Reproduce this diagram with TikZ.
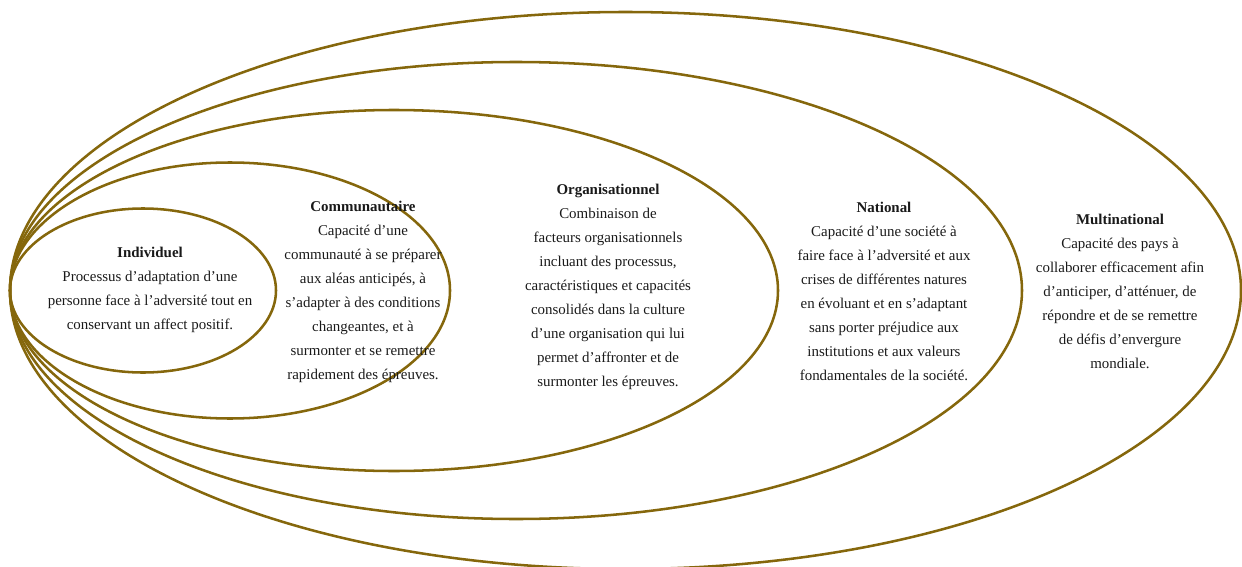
\documentclass[tikz,border=0pt]{standalone}
\usepackage{fontspec}
\setmainfont{Liberation Serif}
\definecolor{gold}{RGB}{133,103,12}
\begin{document}
\begin{tikzpicture}[x=0.75pt,y=-0.75pt,
  ring/.style={draw=gold, line width=1.9pt},
  txt/.style={align=center, font=\fontsize{11.2}{18}\selectfont, inner sep=0pt, text=black!90}]
\useasboundingbox (0,0) rectangle (1242,567);
\draw[ring] (625.5,290.5) ellipse [x radius=615.5, y radius=278.5];
\draw[ring] (516,290.5) ellipse [x radius=506, y radius=228.5];
\draw[ring] (394,290.5) ellipse [x radius=384, y radius=180.5];
\draw[ring] (230,290.5) ellipse [x radius=220, y radius=128];
\draw[ring] (143,290.5) ellipse [x radius=133, y radius=82];

\node[txt] (ind) at (150,290) {\textbf{Individuel}\\Processus d’adaptation d’une\\personne face à l’adversité tout en\\conservant un affect positif.};
\node[txt] (com) at (363,291.5) {\textbf{Communautaire}\\Capacité d’une\\communauté à se préparer\\aux aléas anticipés, à\\s’adapter à des conditions\\changeantes, et à\\surmonter et se remettre\\rapidement des épreuves.};
\node[txt] (org) at (608,286.5) {\textbf{Organisationnel}\\Combinaison de\\facteurs organisationnels\\incluant des processus,\\caractéristiques et capacités\\consolidés dans la culture\\d’une organisation qui lui\\permet d’affronter et de\\surmonter les épreuves.};
\node[txt] (nat) at (884,291.5) {\textbf{National}\\Capacité d’une société à\\faire face à l’adversité et aux\\crises de différentes natures\\en évoluant et en s’adaptant\\sans porter préjudice aux\\institutions et aux valeurs\\fondamentales de la société.};
\node[txt] (mul) at (1120,291.5) {\textbf{Multinational}\\Capacité des pays à\\collaborer efficacement afin\\d’anticiper, d’atténuer, de\\répondre et de se remettre\\de défis d’envergure\\mondiale.};
\end{tikzpicture}
\end{document}
